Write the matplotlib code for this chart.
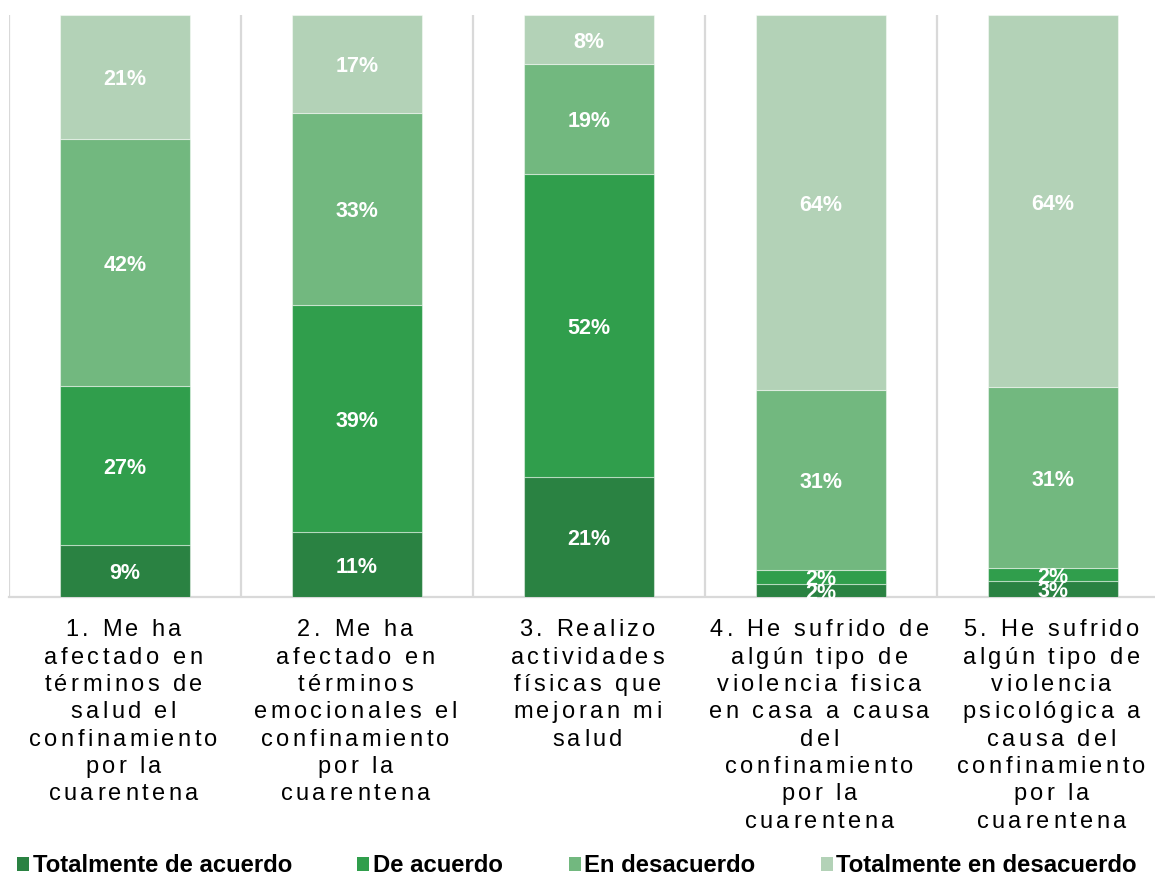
import numpy as np
import matplotlib
matplotlib.use("Agg")
import matplotlib.pyplot as plt
import matplotlib.transforms as mtransforms
from matplotlib.patches import Patch
from matplotlib.font_manager import FontProperties, findfont, get_font

# Survey statements (one entry per wrapped line)
categories = [
    ["1. Me ha", "afectado en", "términos de", "salud el", "confinamiento", "por la", "cuarentena"],
    ["2. Me ha", "afectado en", "términos", "emocionales el", "confinamiento", "por la", "cuarentena"],
    ["3. Realizo", "actividades", "físicas que", "mejoran mi", "salud"],
    ["4. He sufrido de", "algún tipo de", "violencia fisica", "en casa a causa", "del", "confinamiento", "por la", "cuarentena"],
    ["5. He sufrido", "algún tipo de", "violencia", "psicológica a", "causa del", "confinamiento", "por la", "cuarentena"],
]

series_names = ["Totalmente de acuerdo", "De acuerdo", "En desacuerdo", "Totalmente en desacuerdo"]

# Share of responses (%) per statement
totalmente_de_acuerdo = [8.9, 11.2, 20.6, 2.3, 2.7]
de_acuerdo = [27.4, 39.0, 52.1, 2.3, 2.2]
en_desacuerdo = [42.4, 33.0, 18.9, 31.0, 31.1]
totalmente_en_desacuerdo = [21.3, 16.8, 8.4, 64.4, 64.0]

colors = ["#2A8242", "#309E4C", "#72B87F", "#B3D2B7"]

W, H = 1155, 877
fig = plt.figure(figsize=(W / 100, H / 100), dpi=100)
ax = fig.add_axes([9 / W, (H - 597) / H, 1160 / W, 582 / H])

x = np.arange(len(categories))
bottom = np.zeros(len(categories))
for vals, name, col in zip(
    [totalmente_de_acuerdo, de_acuerdo, en_desacuerdo, totalmente_en_desacuerdo],
    series_names, colors,
):
    vals = np.asarray(vals)
    bars = ax.bar(x, vals, 0.56, bottom=bottom, color=col,
                  edgecolor=(1, 1, 1, 0.45), linewidth=0.8, label=name, zorder=3)
    anns = ax.bar_label(bars, labels=[f"{v:.0f}%" for v in vals], label_type="center",
                        color="white", fontsize=15.5, fontweight="bold",
                        family="Liberation Sans", zorder=4)
    for a in anns:
        a.xyann = (0, -2)
    bottom += vals

ax.set_xlim(-0.5, len(categories) - 0.5)
ax.set_ylim(0, 100)
ax.set_xticks(x, labels=[])
ax.set_xticks(np.arange(-0.5, len(categories), 1.0), minor=True)
ax.set_yticks([])
ax.tick_params(which="both", length=0)
ax.grid(axis="x", which="minor", color="#D9D9D9", linewidth=1.6, zorder=0)
for side in ("top", "right", "left"):
    ax.spines[side].set_visible(False)
ax.spines["bottom"].set_color("#D9D9D9")
ax.spines["bottom"].set_linewidth(1.6)

# Category labels with letter tracking, centred under each bar
label_font = FontProperties(family="Liberation Sans", size=17)
ft = get_font(findfont(label_font))
ft.set_size(17, 72)


def advance(ch):
    return ft.load_char(ord(ch)).linearHoriAdvance / 65536.0


tracking = 2.5                      # extra points after each character
line_step = 27.3 * 72 / 100         # points between baselines
first_baseline = 39.5 * 72 / 100    # points below the axis
trans = mtransforms.blended_transform_factory(ax.transData, ax.transAxes)
for i, lines in enumerate(categories):
    for j, line in enumerate(lines):
        widths = [advance(c) for c in line]
        total = sum(widths) + tracking * len(line)
        pen = -total / 2
        for c, w in zip(line, widths):
            if c != " ":
                ax.annotate(c, xy=(i, 0), xycoords=trans,
                            xytext=(pen + w / 2, -(first_baseline + j * line_step)),
                            textcoords="offset points", ha="center", va="baseline",
                            fontproperties=label_font, color="#000000",
                            annotation_clip=False)
            pen += w + tracking

handles = [Patch(facecolor=c, edgecolor="none") for c in colors]
fig.legend(handles, series_names, loc="center left",
           bbox_to_anchor=(17 / W, 1 - 866 / H), ncol=4, frameon=False,
           prop=FontProperties(family="Liberation Sans", weight="bold", size=17.2),
           handlelength=0.5, handleheight=0.5, handletextpad=0.15,
           columnspacing=2.75, borderpad=0, borderaxespad=0)

fig.savefig("out.png", dpi=100)
